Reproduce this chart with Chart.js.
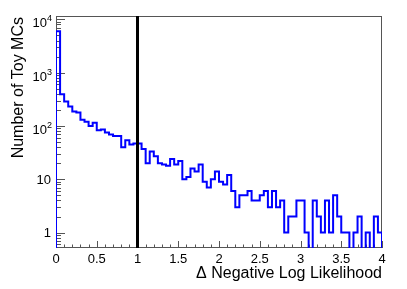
<!DOCTYPE html>
<html>
<head>
<meta charset="utf-8">
<script src="https://cdn.jsdelivr.net/npm/chart.js@4.4.0/dist/chart.umd.min.js"></script>
<style>
  html, body { margin: 0; padding: 0; background: #fff; }
  canvas { display: block; }
</style>
</head>
<body>
<canvas id="nllChart" width="407" height="289"></canvas>
<script>
// Toy MC distribution of the delta NLL, 80 bins of 0.05 from 0 to 4
const BIN_WIDTH = 0.05;
const counts = [
    6000, 395, 287, 231, 186, 178, 130, 120, 100, 115,
    83, 86, 75, 69, 65, 65, 40, 54, 45, 47,
    47, 37, 20, 33, 27, 20, 19, 18, 24, 19,
    22, 10, 11, 16, 14, 19, 9, 7, 10, 14,
    9, 8, 12, 6, 3, 5, 5, 6, 4, 4,
    5, 6, 3, 6, 3, 4, 1, 2, 2, 4,
    4, 1, 0, 4, 2, 1, 4, 1, 5, 2,
    1, 1, 0, 1, 2, 0, 1, 0, 2, 1
];
const threshold = 1;

const xTickLabels = ['0', '0.5', '1', '1.5', '2', '2.5', '3', '3.5', '4'];
const yTickValues = [1, 10, 100, 1000, 10000];
const yTickLabels = [['1', ''], ['10', ''], ['10', '2'], ['10', '3'], ['10', '4']];
const xTitle = 'Δ Negative Log Likelihood';
const yTitle = 'Number of Toy MCs';

const X_MIN = 0, X_MAX = 4;
const Y_MIN = 0.514, Y_MAX = 11530;

const FONT = '"Liberation Sans", Arial, Helvetica, sans-serif';
const AXIS_COLOR = '#555';

// log scale drops zeros, so empty bins go below the frame and get clipped
const FLOOR = Y_MIN / 10;
const toLog = c => (c > 0 ? c : FLOOR);

// step outline, closed down to the frame at both ends like ROOT does
const binEdges = counts.map((_, i) => +(i * BIN_WIDTH).toFixed(2));
const histPoints = binEdges.map((x, i) => ({ x: x, y: toLog(counts[i]) }));
histPoints.unshift({ x: X_MIN, y: FLOOR });
histPoints.push({ x: X_MAX, y: toLog(counts[counts.length - 1]) });
histPoints.push({ x: X_MAX, y: FLOOR });

// frame + inward ticks, drawn under the histogram
const rootFrame = {
    id: 'rootFrame',
    beforeDatasetsDraw(chart) {
        const { ctx, chartArea: a, scales: { x, y } } = chart;
        ctx.save();
        ctx.strokeStyle = AXIS_COLOR;
        ctx.lineWidth = 1;
        ctx.strokeRect(a.left + 0.5, a.top + 0.5, a.right - a.left - 1, a.bottom - a.top - 1);

        ctx.beginPath();
        // x ticks: major every 0.5, minor every 0.1
        for (let k = 0; k <= 40; k++) {
            const px = Math.round(x.getPixelForValue(k / 10)) + 0.5;
            const len = k % 5 === 0 ? 7 : 3.5;
            ctx.moveTo(px, a.bottom);
            ctx.lineTo(px, a.bottom - len);
        }
        // y ticks: decades and 2..9 minors
        for (let e = -1; e <= 4; e++) {
            for (let m = 1; m <= 9; m++) {
                const v = m * Math.pow(10, e);
                if (v < Y_MIN || v > Y_MAX) continue;
                const py = Math.round(y.getPixelForValue(v)) + 0.5;
                const len = m === 1 ? 9 : 5;
                ctx.moveTo(a.left, py);
                ctx.lineTo(a.left + len, py);
            }
        }
        ctx.stroke();
        ctx.restore();
    },
    afterDraw(chart) {
        const { ctx, chartArea: a, scales: { x, y } } = chart;
        ctx.save();
        ctx.fillStyle = '#000';

        ctx.font = '13px ' + FONT;
        ctx.textAlign = 'center';
        ctx.textBaseline = 'alphabetic';
        xTickLabels.forEach(lbl => {
            ctx.fillText(lbl, x.getPixelForValue(parseFloat(lbl)), a.bottom + 15);
        });

        yTickValues.forEach((v, i) => {
            const py = y.getPixelForValue(v);
            const [base, expo] = yTickLabels[i];
            ctx.font = '13px ' + FONT;
            if (!expo) {
                ctx.textAlign = 'right';
                ctx.fillText(base, 51, py + 4.7);
            } else {
                ctx.textAlign = 'right';
                ctx.fillText(base, 47, py + 8);
                ctx.font = '9px ' + FONT;
                ctx.textAlign = 'left';
                ctx.fillText(expo, 47, py + 2);
            }
        });

        ctx.font = '16px ' + FONT;
        ctx.textAlign = 'right';
        ctx.fillText(xTitle, a.right, 278);

        ctx.translate(23, a.top + 1);
        ctx.rotate(-Math.PI / 2);
        ctx.fillText(yTitle, 0, 0);
        ctx.restore();
    }
};

const ctxHist = document.getElementById('nllChart').getContext('2d');
const nllChart = new Chart(ctxHist, {
    type: 'line',
    data: {
        datasets: [{
            label: 'Toy MCs',
            data: histPoints,
            borderColor: '#0000ff',
            borderWidth: 2,
            stepped: true,
            fill: false,
            pointRadius: 0,
            order: 2
        }, {
            label: 'threshold',
            data: [{ x: threshold, y: Y_MIN }, { x: threshold, y: Y_MAX }],
            borderColor: '#000',
            borderWidth: 3,
            fill: false,
            pointRadius: 0,
            order: 1
        }]
    },
    options: {
        responsive: false,
        animation: false,
        layout: {
            padding: { left: 56, right: 25, top: 16, bottom: 41 }
        },
        scales: {
            x: { type: 'linear', min: X_MIN, max: X_MAX, display: false },
            y: { type: 'logarithmic', min: Y_MIN, max: Y_MAX, display: false }
        },
        plugins: {
            legend: { display: false },
            tooltip: { enabled: false }
        }
    },
    plugins: [rootFrame]
});
</script>
</body>
</html>
